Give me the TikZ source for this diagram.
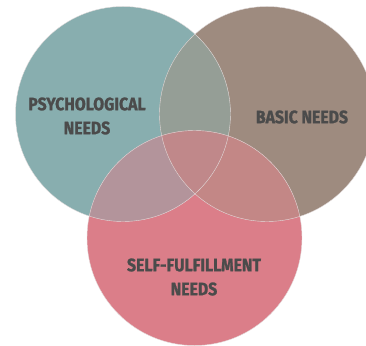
\documentclass[tikz,border=0pt]{standalone}
\usepackage{fontspec}
\setmainfont{Fira Sans}[BoldFeatures={FakeStretch=0.88, FakeBold=1.2}]
\definecolor{psyfill}{HTML}{88AEAF}
\definecolor{basicfill}{HTML}{9E8B7F}
\definecolor{selffill}{HTML}{DB7E89}
\definecolor{psybasic}{HTML}{959E96}
\definecolor{psyself}{HTML}{B3949B}
\definecolor{basicself}{HTML}{C38786}
\definecolor{allthree}{HTML}{C0888A}
\definecolor{needtext}{HTML}{4B4B4B}
\definecolor{rimgray}{HTML}{E2DCDC}

\begin{document}
\begin{tikzpicture}[x=1pt, y=-1pt,
    needlabel/.style={font=\bfseries\fontsize{18}{24}\selectfont, text=needtext, align=center, inner sep=0pt},
    rim/.style={draw=rimgray, line width=0.4pt}]

    \useasboundingbox (0,0) rectangle (366,345);
    \clip (0,0) rectangle (366,345);

    \coordinate (psy) at (123,114); % psychological
    \coordinate (bas) at (267,114); % basic
    \coordinate (sel) at (194.5,238); % self-fulfillment
    \def\rad{107.5pt}

    \fill[psyfill] (psy) circle (\rad);
    \fill[basicfill] (bas) circle (\rad);
    \fill[selffill] (sel) circle (\rad);

    \begin{scope} % overlaps with psychological
        \clip (psy) circle (\rad);
        \fill[psybasic] (bas) circle (\rad);
        \fill[psyself] (sel) circle (\rad);
    \end{scope}
    \begin{scope} % overlaps with basic
        \clip (bas) circle (\rad);
        \fill[basicself] (sel) circle (\rad);
        \clip (psy) circle (\rad);
        \fill[allthree] (sel) circle (\rad); % middle
    \end{scope}

    \draw[rim] (psy) circle (\rad);
    \draw[rim] (bas) circle (\rad);
    \draw[rim] (sel) circle (\rad);

    \node[needlabel] (psytext) at (87,116) {PSYCHOLOGICAL\\NEEDS};
    \node[needlabel] (bastext) at (302,117) {BASIC NEEDS};
    \node[needlabel] (seltext) at (194,277) {SELF-FULFILLMENT\\NEEDS};
\end{tikzpicture}
\end{document}
